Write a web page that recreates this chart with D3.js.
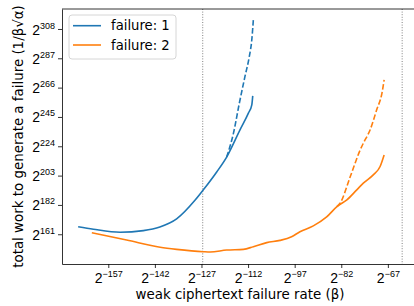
<!DOCTYPE html>
<html>
<head>
<meta charset="utf-8">
<script src="https://cdn.jsdelivr.net/npm/d3@7"></script>
<style>
  body { margin: 0; background: #fff; }
  svg { display: block; font-family: 'DejaVu Sans', sans-serif; }
</style>
</head>
<body>
<div id="chart"></div>
<script>
// exponents of 2: [log2(beta), log2(work)]
const failure1Solid = [
  [-166.7, 166.4], [-161.8, 164.6], [-153.2, 162.4], [-145.7, 163.6],
  [-140.4, 166.2], [-135.0, 172.0], [-129.1, 185.3], [-126.4, 192.8],
  [-122.1, 205.6], [-118.9, 216.3], [-114.6, 235.8], [-111.9, 247.7],
  [-110.8, 253.7], [-110.5, 260.1]
];
const failure1Dashed = [
  [-118.9, 216.3], [-116.7, 233.4], [-114.8, 255.0], [-113.0, 274.0],
  [-111.6, 288.3], [-110.8, 300.3], [-110.3, 314.6]
];
const failure2Solid = [
  [-162.3, 162.1], [-151.1, 156.9], [-140.3, 151.7], [-135.0, 150.2],
  [-126.4, 148.5], [-124.2, 148.3], [-118.9, 149.7], [-113.5, 150.2],
  [-110.3, 152.1], [-106.0, 155.0], [-101.7, 156.6], [-98.0, 159.2],
  [-95.3, 162.8], [-91.0, 167.0], [-86.7, 173.4], [-83.4, 180.8],
  [-80.2, 185.6], [-77.0, 192.8], [-74.9, 197.6], [-71.7, 203.5],
  [-69.5, 209.5], [-68.2, 217.8]
];
const failure2Dashed = [
  [-83.4, 180.8], [-82.4, 183.2], [-79.1, 202.3], [-75.9, 221.4],
  [-74.9, 226.2], [-72.7, 235.8], [-70.6, 250.1], [-68.9, 262.1],
  [-68.2, 271.6]
];
const refLines = [-126.6, -62.4];
const xTicks = [-157, -142, -127, -112, -97, -82, -67];
const yTicks = [161, 182, 203, 224, 245, 266, 287, 308];
const seriesNames = ['failure: 1', 'failure: 2'];
const colors = ['#1f77b4', '#ff7f0e'];

const W = 414, H = 306;
const margin = { top: 9, right: -4, bottom: 42, left: 62 };
const width = W - margin.left - margin.right;
const height = H - margin.top - margin.bottom;

const root = d3.select('#chart').append('svg')
  .attr('width', W).attr('height', H);
const svg = root.append('g')
  .attr('transform', 'translate(' + margin.left + ',' + margin.top + ')');

const x = d3.scaleLinear().domain([-171.9, -57.3]).range([0, width]);
const y = d3.scaleLinear().domain([139.7, 322.3]).range([height, 0]);

// dotted reference lines
svg.selectAll('.ref')
  .data(refLines)
  .enter()
  .append('line')
  .attr('x1', d => x(d)).attr('x2', d => x(d))
  .attr('y1', 0).attr('y2', height)
  .style('stroke', '#808080')
  .style('stroke-width', 1)
  .style('stroke-dasharray', '1,1.6');

const line = d3.line()
  .x(d => x(d[0]))
  .y(d => y(d[1]))
  .curve(d3.curveMonotoneX);

const paths = [
  [failure1Solid, 0, null],
  [failure1Dashed, 0, '5.5,2.4'],
  [failure2Solid, 1, null],
  [failure2Dashed, 1, '5.5,2.4']
];
paths.forEach(([data, ci, dash]) => {
  svg.append('path')
    .datum(data)
    .attr('fill', 'none')
    .attr('stroke', colors[ci])
    .attr('stroke-width', 1.6)
    .attr('stroke-dasharray', dash)
    .attr('d', line);
});

// superscript tick labels "2^n"
function powLabel(sel) {
  sel.selectAll('.tick text').each(function (d) {
    const t = d3.select(this).text(null).style('font-size', '14px');
    t.append('tspan').text('2');
    t.append('tspan')
      .attr('dy', '-6px')
      .style('font-size', '9px')
      .text(String(d).replace('-', '\u2212'));
  });
}

const xAxis = svg.append('g')
  .attr('transform', `translate(0,${height})`)
  .call(d3.axisBottom(x).tickValues(xTicks).tickSize(4).tickPadding(5).tickSizeOuter(0))
  .call(powLabel);
xAxis.selectAll('.tick text').attr('dy', '0.71em');

const yAxis = svg.append('g')
  .call(d3.axisLeft(y).tickValues(yTicks).tickSize(4).tickPadding(3).tickSizeOuter(0))
  .call(powLabel);
yAxis.selectAll('.tick text').attr('dy', '0.36em');

[xAxis, yAxis].forEach(a => {
  a.selectAll('.tick line').style('stroke', '#000').style('stroke-width', 0.8);
  a.selectAll('.tick text').style('fill', '#000');
  a.select('.domain').style('stroke', '#000').style('stroke-width', 0.8);
});

// top spine
svg.append('line')
  .attr('x1', 0).attr('x2', width)
  .attr('y1', 0).attr('y2', 0)
  .style('stroke', '#000').style('stroke-width', 0.8);

// axis labels
svg.append('text')
  .attr('x', width / 2)
  .attr('y', height + 35)
  .attr('text-anchor', 'middle')
  .style('font-size', '13.4px')
  .text('weak ciphertext failure rate (\u03b2)');

svg.append('text')
  .attr('transform', 'rotate(-90)')
  .attr('x', -height / 2)
  .attr('y', -margin.left + 23)
  .attr('text-anchor', 'middle')
  .style('font-size', '13.4px')
  .text('total work to generate a failure (1/\u03b2\u221a\u03b1)');

// legend
const legend = svg.append('g').attr('transform', 'translate(7,6)');
legend.append('rect')
  .attr('width', 107).attr('height', 44)
  .attr('rx', 3)
  .attr('fill', 'rgba(255,255,255,0.8)')
  .attr('stroke', '#cccccc')
  .attr('stroke-width', 0.8);
seriesNames.forEach((name, i) => {
  const ly = 10.7 + i * 19.3;
  legend.append('line')
    .attr('x1', 4).attr('x2', 32)
    .attr('y1', ly).attr('y2', ly)
    .attr('stroke', colors[i])
    .attr('stroke-width', 1.6);
  legend.append('text')
    .attr('x', 42).attr('y', ly + 4.7)
    .style('font-size', '13.2px')
    .text(name);
});
</script>
</body>
</html>
